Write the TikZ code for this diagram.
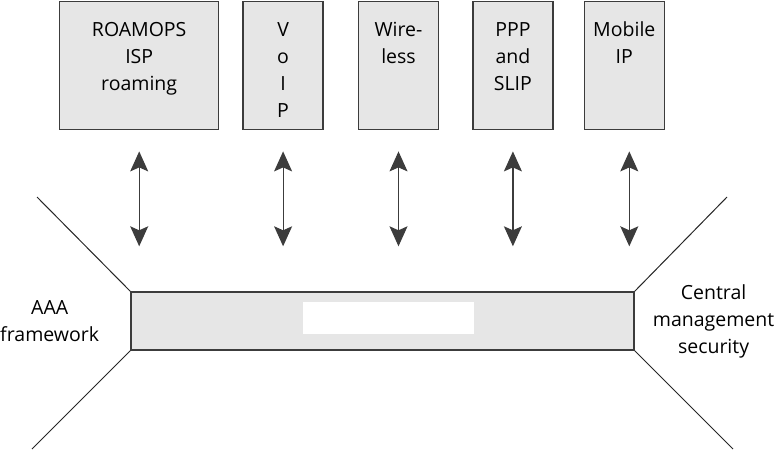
\documentclass[tikz,border=0pt]{standalone}
\usepackage{fontspec}
\setmainfont{Open Sans}
\usetikzlibrary{arrows.meta, positioning}
\definecolor{boxgray}{RGB}{230,230,230}
\definecolor{edgegray}{RGB}{60,60,60}

\begin{document}
\begin{tikzpicture}[
    x=1pt, y=-1pt,
    appbox/.style={rectangle, draw=edgegray, fill=boxgray, line width=1.4pt, minimum width=80pt, minimum height=128pt, inner sep=0pt},
    apptext/.style={align=center, inner sep=0pt, font=\fontsize{19.5}{27}\selectfont},
    sidetext/.style={align=center, inner sep=0pt, font=\fontsize{19.5}{27}\selectfont},
    link/.style={{Stealth[length=20pt, width=18pt, inset=4pt]}-{Stealth[length=20pt, width=18pt, inset=4pt]}, line width=1.2pt, edgegray, shorten <=21pt, shorten >=45pt},
    wing/.style={line width=1pt, black!85}
]
\useasboundingbox (0,0) rectangle (776,451);

% application boxes
\node[appbox, minimum width=159pt, anchor=north west] (roam) at (59,1) {};
\node[appbox, right=23pt of roam] (voip) {};
\node[appbox, right=34pt of voip] (wls) {};
\node[appbox, right=33pt of wls] (ppp) {};
\node[appbox, right=30pt of ppp] (mip) {};

\node[apptext, below=21pt of roam.north] {ROAMOPS\\ISP\\roaming};
\node[apptext, below=21pt of voip.north] {V\\o\\I\\P};
\node[apptext, below=21pt of wls.north] {Wire-\\less};
\node[apptext, below=21pt of ppp.north] {PPP\\and\\SLIP};
\node[apptext, below=20pt of mip.north] {Mobile\\IP};

% AAA bar
\node[rectangle, draw=edgegray, fill=boxgray, line width=1.4pt, minimum width=503pt, minimum height=58pt, inner sep=0pt] (bar) at (382.5,321) {};
\node[rectangle, fill=white, minimum width=171pt, minimum height=32pt, inner sep=0pt] (blank) at (388.5,318) {};

\node[sidetext, left=31pt of bar] (aaa) {AAA\\framework};
\node[sidetext, right=18pt of bar] (cms) {Central\\management\\security};

% wings
\coordinate (nw) at (37,197);
\coordinate (sw) at (32,449);
\coordinate (ne) at (727,197);
\coordinate (se) at (733,449);
\draw[wing] (nw) -- (bar.north west);
\draw[wing] (bar.south west) -- (sw);
\draw[wing] (bar.north east) -- (ne);
\draw[wing] (bar.south east) -- (se);

% arrows
\draw[link] (roam.south) -- (roam.south |- bar.north);
\draw[link] (voip.south) -- (voip.south |- bar.north);
\draw[link] (wls.south) -- (wls.south |- bar.north);
\draw[link] (ppp.south) -- (ppp.south |- bar.north);
\draw[link] ([xshift=5pt]mip.south) -- ([xshift=5pt]mip.south |- bar.north);
\end{tikzpicture}
\end{document}
